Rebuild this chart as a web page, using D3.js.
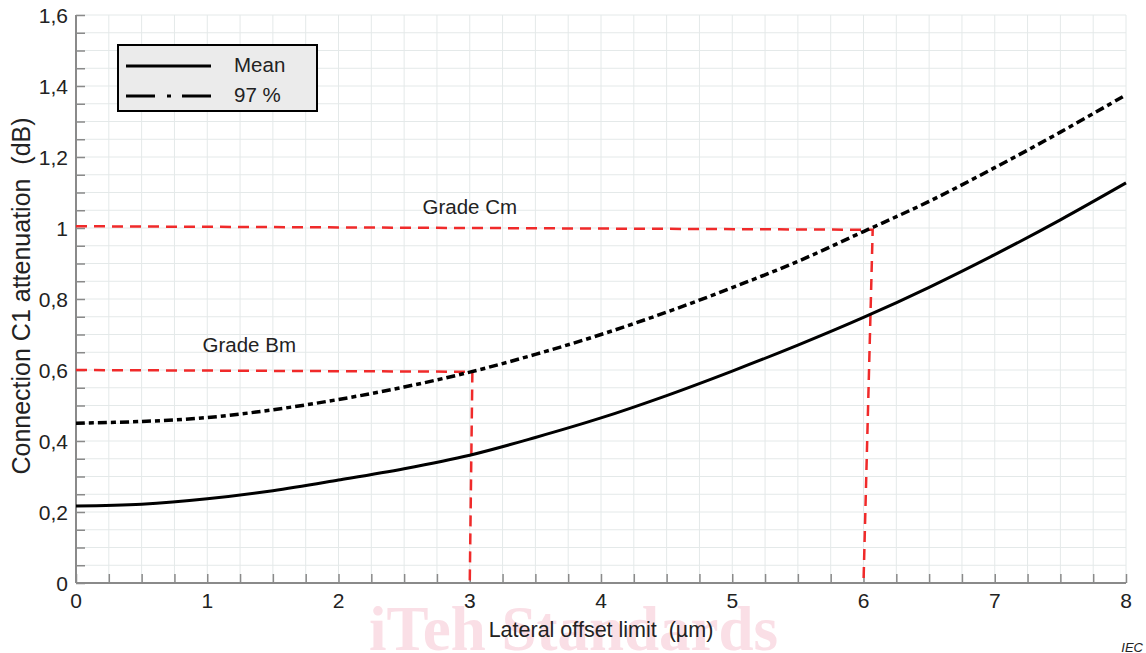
<!DOCTYPE html>
<html>
<head>
<meta charset="utf-8">
<script src="https://cdn.jsdelivr.net/npm/d3@7"></script>
<style>
  body { margin: 0; background: #fff; }
  text { font-family: Arial, "Liberation Sans", sans-serif; fill: #222; }
</style>
</head>
<body>
<div id="canvas"></div>
<script>
// lateral offset (um) and attenuation (dB)
var offsets = [0, 0.5, 1, 1.5, 2, 2.5, 3, 3.5, 4, 4.5, 5, 5.5, 6, 6.5, 7, 7.5, 8];
var meanValues = [0.217, 0.222, 0.237, 0.26, 0.29, 0.322, 0.36, 0.41, 0.465, 0.528, 0.597, 0.67, 0.748, 0.833, 0.925, 1.023, 1.127];
var p97Values = [0.45, 0.455, 0.466, 0.488, 0.517, 0.552, 0.594, 0.644, 0.70, 0.763, 0.832, 0.906, 0.99, 1.075, 1.17, 1.27, 1.375];

var xTicks = [0, 1, 2, 3, 4, 5, 6, 7, 8];
var yTicks = [0, 0.2, 0.4, 0.6, 0.8, 1.0, 1.2, 1.4, 1.6];

// grade limit guide lines: [x, y] corners
var gradeBm = [[0, 0.6], [3.02, 0.595], [3.0, 0]];
var gradeCm = [[0, 1.005], [6.07, 0.995], [6.0, 0]];
var gradeLabels = [
  { name: "Grade Bm", x: 1.32, y: 0.651 },
  { name: "Grade Cm", x: 3.0, y: 1.04 }
];

var width = 1146, height = 653;
var svg = d3.select("#canvas").append("svg").attr("width", width).attr("height", height);

var x = d3.scaleLinear().domain([0, 8]).range([76, 1126]);
var y = d3.scaleLinear().domain([0, 1.6]).range([583, 15]);

// watermark
svg.append("text")
  .attr("x", 369).attr("y", 650)
  .style("font-family", "'Liberation Serif', 'DejaVu Serif', serif")
  .style("font-weight", "bold")
  .style("font-size", "63px")
  .style("fill", "#fadfe6")
  .text("iTeh Standards");

// grid
var gx = d3.range(0, 8.001, 0.25);
var gy = d3.range(0, 1.6001, 0.05);
svg.append("g").selectAll("line").data(gx).enter().append("line")
  .attr("x1", d => x(d)).attr("x2", d => x(d))
  .attr("y1", y(0)).attr("y2", y(1.6))
  .attr("stroke", "#e4e9e9").attr("stroke-width", 1);
svg.append("g").selectAll("line").data(gy).enter().append("line")
  .attr("x1", x(0)).attr("x2", x(8))
  .attr("y1", d => y(d)).attr("y2", d => y(d))
  .attr("stroke", "#e4e9e9").attr("stroke-width", 1);

// axes with inward ticks
var xAxis = svg.append("g").attr("transform", "translate(0," + y(0) + ")")
  .call(d3.axisTop(x).tickValues(gx).tickSize(9).tickFormat(""));
var yAxis = svg.append("g").attr("transform", "translate(" + x(0) + ",0)")
  .call(d3.axisRight(y).tickValues(gy).tickSize(9).tickFormat(""));
[xAxis, yAxis].forEach(a => {
  a.select(".domain").attr("stroke", "#8a8a8a").attr("stroke-width", 2);
  a.selectAll(".tick line").attr("stroke", "#8a8a8a").attr("stroke-width", 1.5);
});
yAxis.select(".domain").attr("d", "M0," + y(1.6) + "V" + y(0));
xAxis.select(".domain").attr("d", "M" + x(0) + ",0H" + x(8));

// tick labels
svg.append("g").selectAll("text").data(xTicks).enter().append("text")
  .attr("x", d => x(d)).attr("y", 608)
  .attr("text-anchor", "middle")
  .style("font-size", "21px")
  .text(d => d);
svg.append("g").selectAll("text").data(yTicks).enter().append("text")
  .attr("x", 68).attr("y", d => y(d)).attr("dy", "0.36em")
  .attr("text-anchor", "end")
  .style("font-size", "21px")
  .text(d => d3.format(".1~f")(d).replace(".", ","));

// axis titles
svg.append("text")
  .attr("x", 601).attr("y", 637)
  .attr("text-anchor", "middle")
  .style("font-size", "21.5px")
  .text("Lateral offset limit\u00a0\u00a0(\u00b5m)");
svg.append("text")
  .attr("transform", "translate(30,296) rotate(-90)")
  .attr("text-anchor", "middle")
  .style("font-size", "25px")
  .text("Connection C1 attenuation\u00a0\u00a0(dB)");

// grade guide lines
var guide = d3.line().x(d => x(d[0])).y(d => y(d[1]));
[gradeBm, gradeCm].forEach(g => {
  svg.append("path").attr("d", guide(g))
    .attr("fill", "none").attr("stroke", "#f02a2a")
    .attr("stroke-width", 2.5).attr("stroke-dasharray", "11,7");
});
svg.append("g").selectAll("text").data(gradeLabels).enter().append("text")
  .attr("x", d => x(d.x)).attr("y", d => y(d.y))
  .attr("text-anchor", "middle")
  .style("font-size", "20.5px")
  .text(d => d.name);

// curves
var curve = d3.line().curve(d3.curveCatmullRom).x((d, i) => x(offsets[i])).y(d => y(d));
svg.append("path").attr("d", curve(meanValues))
  .attr("fill", "none").attr("stroke", "#000").attr("stroke-width", 3);
svg.append("path").attr("d", curve(p97Values))
  .attr("fill", "none").attr("stroke", "#000").attr("stroke-width", 3.5)
  .attr("stroke-dasharray", "9,4,5,4");

// legend
var legend = svg.append("g");
legend.append("rect").attr("x", 118).attr("y", 45).attr("width", 199).attr("height", 66)
  .attr("fill", "#ebebeb").attr("stroke", "#000").attr("stroke-width", 2);
legend.append("line").attr("x1", 126).attr("x2", 211).attr("y1", 66).attr("y2", 66)
  .attr("stroke", "#000").attr("stroke-width", 3);
legend.append("line").attr("x1", 126).attr("x2", 211).attr("y1", 96).attr("y2", 96)
  .attr("stroke", "#000").attr("stroke-width", 3)
  .attr("stroke-dasharray", "29,12,4,11,29,50");
legend.append("text").attr("x", 234).attr("y", 72).style("font-size", "20.5px").text("Mean");
legend.append("text").attr("x", 234).attr("y", 102).style("font-size", "20.5px").text("97 %");

// source mark
svg.append("text").attr("x", 1143).attr("y", 652)
  .attr("text-anchor", "end")
  .style("font-size", "13px").style("font-style", "italic")
  .text("IEC");
</script>
</body>
</html>
